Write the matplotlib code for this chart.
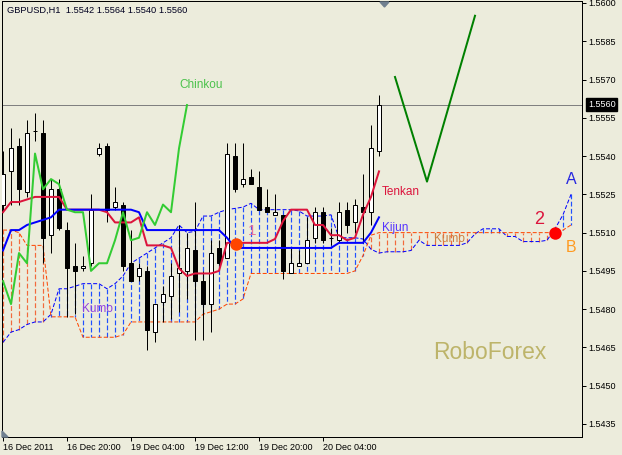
"""GBPUSD H1 Ichimoku chart (MT4 style) redrawn with matplotlib."""

import numpy as np
import matplotlib.pyplot as plt
from matplotlib.patches import Polygon

plt.rcParams['font.family'] = ['Liberation Sans', 'DejaVu Sans']

# 48 hourly candles, 16 Dec 2011 12:00 .. 20 Dec 2011 11:00
opens = [1.5521, 1.5534, 1.5544, 1.5526, 1.5550, 1.5549, 1.5509, 1.5527, 1.5511, 1.5497,
         1.5496, 1.5498, 1.5541, 1.5544, 1.5520, 1.5521, 1.5498, 1.5493, 1.5495, 1.5471,
         1.5483, 1.5485, 1.5494, 1.5495, 1.5503, 1.5491, 1.5482, 1.5504, 1.5500, 1.5540,
         1.5529, 1.5532, 1.5528, 1.5520, 1.5517, 1.5517, 1.5494, 1.5497, 1.5498, 1.5508,
         1.5518, 1.5508, 1.5507, 1.5519, 1.5514, 1.5520, 1.5518, 1.5542]
highs = [1.5542, 1.5551, 1.5547, 1.5554, 1.5557, 1.5554, 1.5531, 1.5531, 1.5514, 1.5506,
         1.5501, 1.5525, 1.5545, 1.5545, 1.5528, 1.5522, 1.5511, 1.5498, 1.5497, 1.5482,
         1.5489, 1.5498, 1.5513, 1.5510, 1.5522, 1.5495, 1.5507, 1.5507, 1.5545, 1.5545,
         1.5545, 1.5535, 1.5534, 1.5527, 1.5525, 1.5517, 1.5504, 1.5503, 1.5516, 1.5520,
         1.5520, 1.5512, 1.5522, 1.5522, 1.5523, 1.5533, 1.5552, 1.5564]
lows = [1.5518, 1.5521, 1.5521, 1.5524, 1.5546, 1.5498, 1.5502, 1.5511, 1.5477, 1.5478,
        1.5495, 1.5497, 1.5540, 1.5514, 1.5519, 1.5495, 1.5491, 1.5491, 1.5464, 1.5467,
        1.5475, 1.5476, 1.5479, 1.5484, 1.5468, 1.5468, 1.5471, 1.5497, 1.5500, 1.5526,
        1.5528, 1.5529, 1.5519, 1.5518, 1.5517, 1.5492, 1.5494, 1.5497, 1.5498, 1.5506,
        1.5506, 1.5505, 1.5506, 1.5510, 1.5510, 1.5506, 1.5513, 1.5540]
closes = [1.5533, 1.5543, 1.5527, 1.5549, 1.5550, 1.5508, 1.5527, 1.5512, 1.5496, 1.5495,
          1.5497, 1.5519, 1.5543, 1.5519, 1.5522, 1.5497, 1.5491, 1.5496, 1.5472, 1.5482,
          1.5486, 1.5493, 1.5496, 1.5504, 1.5491, 1.5482, 1.5502, 1.5498, 1.5541, 1.5527,
          1.5531, 1.5529, 1.5519, 1.5518, 1.5518, 1.5495, 1.5498, 1.5498, 1.5507, 1.5518,
          1.5507, 1.5508, 1.5518, 1.5513, 1.5521, 1.5518, 1.5543, 1.5560]

tenkan = [1.5518, 1.5522, 1.5522, 1.5523, 1.5524, 1.5524, 1.5524, 1.5524, 1.5519, 1.5519,
          1.5519, 1.5519, 1.5519, 1.5518, 1.5514, 1.5514, 1.5514, 1.5516, 1.5505, 1.5505,
          1.5505, 1.5504, 1.5496, 1.5493, 1.5494, 1.5494, 1.5494, 1.5495, 1.5506, 1.5506,
          1.5506, 1.5506, 1.5506, 1.5506, 1.55075, 1.55145, 1.5519, 1.5519, 1.5519, 1.5513,
          1.5513, 1.5509, 1.5509, 1.5507, 1.5508, 1.5517, 1.5524, 1.5534]
kijun = [1.5503, 1.5511, 1.5511, 1.5513, 1.5514, 1.5515, 1.5516, 1.5519, 1.5519, 1.5519,
         1.5519, 1.5519, 1.5519, 1.5519, 1.5519, 1.5519, 1.5519, 1.5518, 1.5511, 1.5511,
         1.5511, 1.5511, 1.5511, 1.5511, 1.5511, 1.5511, 1.5511, 1.5511, 1.5508, 1.5504,
         1.5504, 1.5504, 1.5504, 1.5504, 1.5504, 1.5504, 1.5504, 1.5504, 1.5504, 1.5504,
         1.5504, 1.5504, 1.5506, 1.5506, 1.5506, 1.5506, 1.5510, 1.5516]

# kumo, runs 24 bars past the last candle
senkou_a = [1.5467, 1.5471, 1.5472, 1.5474, 1.5475, 1.5475, 1.5478, 1.5488, 1.5488, 1.5489,
            1.5490, 1.5490, 1.5490, 1.5488, 1.5490, 1.5493, 1.5498, 1.5500, 1.5502, 1.5504,
            1.5506, 1.5508, 1.5513, 1.5510, 1.55105, 1.55165, 1.55165, 1.5518, 1.5519, 1.55195,
            1.5520, 1.55215, 1.5519, 1.5519, 1.5519, 1.5519, 1.5519, 1.55185, 1.55165, 1.55165,
            1.55165, 1.5517, 1.5508, 1.5508, 1.5508, 1.55075, 1.55035, 1.5502, 1.55025, 1.55025,
            1.55025, 1.5503, 1.5507, 1.5505, 1.5505, 1.5505, 1.5505, 1.5505, 1.5506, 1.55095,
            1.55115, 1.55115, 1.55115, 1.55085, 1.55085, 1.55065, 1.55065, 1.55065, 1.5507, 1.55115,
            1.5517, 1.5525]
senkou_b = [1.5511, 1.5511, 1.5510, 1.5505, 1.5505, 1.5505, 1.5477, 1.5477, 1.5477, 1.5477,
            1.5469, 1.5469, 1.5469, 1.5469, 1.5469, 1.5470, 1.5475, 1.5475, 1.5475, 1.5475,
            1.5475, 1.5475, 1.5475, 1.5475, 1.5475, 1.5478, 1.5479, 1.5480, 1.5482, 1.5482,
            1.5484, 1.5494, 1.5494, 1.5494, 1.5494, 1.5494, 1.5494, 1.5494, 1.5494, 1.5494,
            1.5494, 1.5494, 1.5494, 1.5494, 1.5495, 1.5501, 1.5509, 1.5510, 1.5510, 1.5510,
            1.5510, 1.5510, 1.5510, 1.5510, 1.5510, 1.5510, 1.5510, 1.5510, 1.5510, 1.5510,
            1.5510, 1.5510, 1.5510, 1.5510, 1.5510, 1.5510, 1.5510, 1.5510, 1.5510, 1.5510,
            1.5511, 1.5513]
chinkou_shift = 24

# forecast zigzag and marked points
forecast_x = [49, 53, 59]
forecast_y = [1.5571, 1.5530, 1.5595]
point1 = (29.1, 1.55055)
point2 = (69, 1.5510)

tick_pos = [0, 8, 16, 24, 32, 40]
tick_labels = ['16 Dec 2011', '16 Dec 20:00', '19 Dec 04:00',
               '19 Dec 12:00', '19 Dec 20:00', '20 Dec 04:00']
price_ticks = [1.5600, 1.5585, 1.5570, 1.5555, 1.5540, 1.5525,
               1.5510, 1.5495, 1.5480, 1.5465, 1.5450, 1.5435]
last_price = 1.5560

bg = '#ECECDC'
W, H = 622, 455
px = 0.72  # one pixel in points at dpi 100

fig = plt.figure(figsize=(W / 100, H / 100), dpi=100)
fig.patch.set_facecolor(bg)
ax = fig.add_axes([2 / W, 1 - 437 / H, 580 / W, 436 / H])
ax.set_facecolor(bg)
ax.set_xlim(-0.125, 72.375)
ax.set_ylim(1.5600 - 434 / 25515, 1.5600 + 2 / 25515)

o = np.array(opens)
h = np.array(highs)
l = np.array(lows)
c = np.array(closes)
x = np.arange(len(o))

# kumo: one dotted stroke per bar, blue where span A is on top
a = np.array(senkou_a)
b = np.array(senkou_b)
dash = (0, (4, 2))
for i in range(len(a)):
    col = '#2050FF' if a[i] >= b[i] else '#F26A3C'
    ax.plot([i + 0.06, i + 0.06], [a[i], b[i]], color=col, ls=dash, lw=1.2 * px,
            solid_capstyle='butt', dash_capstyle='butt', zorder=1)
ax.plot(np.arange(len(a)), a, color='#0000FF', ls=dash, lw=px, zorder=1.5)
ax.plot(np.arange(len(b)), b, color='#FF4500', ls=dash, lw=px, zorder=1.5)

ax.axhline(last_price, color='#808080', lw=px, zorder=2)

# candles
ax.vlines(x, l, h, color='black', lw=px, zorder=3)
bull = c > o
bear = c < o
doji = c == o
ax.bar(x[bull], (c - o)[bull], bottom=o[bull], width=0.6, facecolor='white',
       edgecolor='black', lw=px, zorder=4)
ax.bar(x[bear], (o - c)[bear], bottom=c[bear], width=0.6, facecolor='black',
       edgecolor='black', lw=px, zorder=4)
ax.hlines(c[doji], x[doji] - 0.3, x[doji] + 0.3, color='black', lw=px, zorder=4)

# ichimoku lines
ax.plot(x, tenkan, color='#DC143C', lw=2 * px, zorder=5)
ax.plot(x, kijun, color='#0000FF', lw=2 * px, zorder=5)
ax.plot(x[:len(c) - chinkou_shift], c[chinkou_shift:], color='#33CC33', lw=2 * px, zorder=5)

ax.plot(forecast_x, forecast_y, color='#008000', lw=2 * px, zorder=5)
ax.plot(*point1, 'o', ms=9, color='#FF4500', mec='none', zorder=6)
ax.plot(*point2, 'o', ms=9, color='#FF0000', mec='none', zorder=6)

# labels
ax.text(22.1, 1.55679, 'Chinkou', color='#4CC24C', fontsize=8.5, va='center', zorder=7)
ax.text(47.4, 1.55259, 'Tenkan', color='#DC143C', fontsize=8.5, va='center', zorder=7)
ax.text(47.4, 1.55118, 'Kijun', color='#5533FF', fontsize=8.5, va='center', zorder=7)
ax.text(53.9, 1.55075, 'Kumo', color='#CD8040', fontsize=8.5, va='center', zorder=7)
ax.text(9.9, 1.54801, 'Kumo', color='#9040E0', fontsize=8.5, va='center', zorder=7)
ax.text(31.1, 1.55106, '1', color='#E8709A', fontsize=11, ha='center', va='center', zorder=7)
ax.text(67.0, 1.55150, '2', color='#DC143C', fontsize=13, ha='center', va='center', zorder=7)
ax.text(71.0, 1.55310, 'A', color='#2828E0', fontsize=11.5, ha='center', va='center', zorder=7)
ax.text(71.0, 1.55040, 'B', color='#FF9A20', fontsize=11.5, ha='center', va='center', zorder=7)
ax.text(60.9, 1.54632, 'RoboForex', color='#BDB46A', fontsize=16.5, ha='center',
        va='center', zorder=7)

# axes
for sp in ax.spines.values():
    sp.set_linewidth(px)
    sp.set_color('black')
ax.yaxis.tick_right()
ax.set_yticks(price_ticks)
ax.set_yticklabels(['%.4f' % p for p in price_ticks])
ax.set_xticks(tick_pos)
ax.set_xticklabels(tick_labels, ha='left')
ax.tick_params(axis='both', direction='out', length=3, width=px, labelsize=6.5,
               colors='black', pad=1.5)

fig.text(588 / W, 1 - 104.5 / H, '%.4f' % last_price, color='white', fontsize=6.5,
         va='center', bbox=dict(facecolor='black', edgecolor='black', pad=1.2))
fig.text(7 / W, 1 - 10 / H, 'GBPUSD,H1  1.5542 1.5564 1.5540 1.5560', color='#000020',
         fontsize=6.7, va='center')

fig.add_artist(Polygon([[380 / W, 1 - 2 / H], [389 / W, 1 - 2 / H], [384.5 / W, 1 - 7 / H]],
                       closed=True, transform=fig.transFigure, color='#708090'))
fig.add_artist(Polygon([[2 / W, 1 - 437 / H], [2 / W, 1 - 431 / H], [8 / W, 1 - 437 / H]],
                       closed=True, transform=fig.transFigure, color='#708090'))

fig.savefig('out.png', dpi=100, facecolor=bg)
